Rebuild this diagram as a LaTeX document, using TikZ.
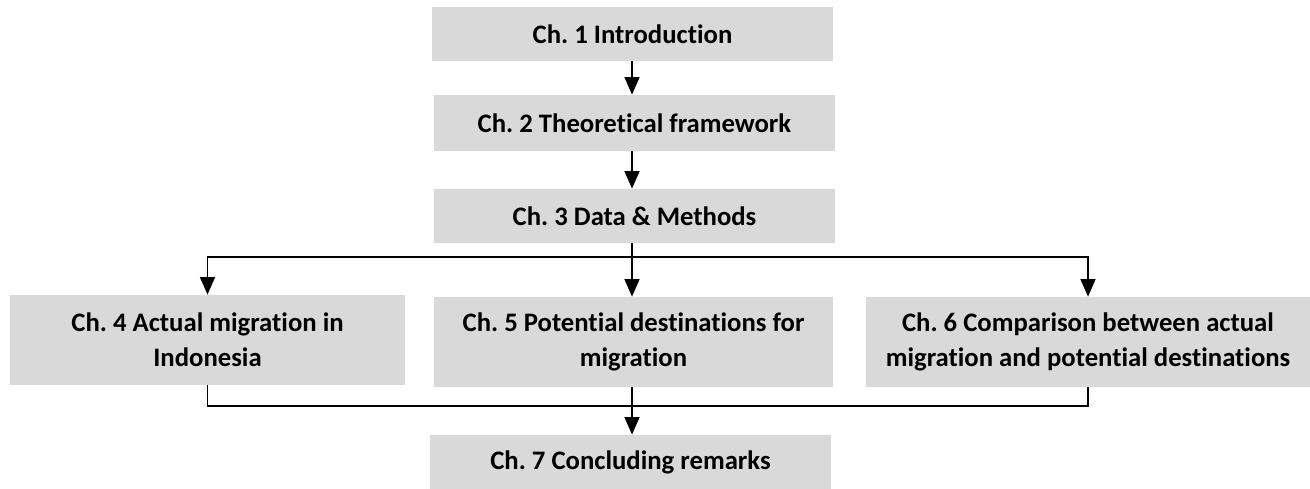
\documentclass[tikz,border=0pt]{standalone}
\usepackage{fontspec}
\setmainfont{Carlito}[Ligatures=NoCommon]
\usepackage{xcolor}
\usetikzlibrary{arrows.meta}
\definecolor{boxgray}{HTML}{D9D9D9}
\frenchspacing

\begin{document}
\begin{tikzpicture}[x=0.02cm,y=-0.02cm,
    chbox/.style={fill=boxgray,inner sep=0pt,align=center,
      font=\fontsize{15.2}{20}\selectfont\bfseries},
    flow/.style={line width=1pt,-{Triangle[length=10pt,width=8.5pt]}},
    bus/.style={line width=1pt}]
        \useasboundingbox (0,0) rectangle (1310,489);

        %------------------
        % chapters
        %------------------

        \node[chbox,minimum width=8.02cm,minimum height=1.08cm] (intro) at (632.5,34) {Ch. 1 Introduction};
        \node[chbox,minimum width=8.02cm,minimum height=1.12cm] (theory) at (634.5,123) {Ch. 2 Theoretical framework};
        \node[chbox,minimum width=8.02cm,minimum height=1.08cm] (data) at (634.5,216) {Ch. 3 Data \& Methods};

        \node[chbox,minimum width=7.90cm,minimum height=1.80cm] (actual) at (207.5,340) {Ch. 4 Actual migration in\\Indonesia};
        \node[chbox,minimum width=7.98cm,minimum height=1.80cm] (potential) at (633.5,342) {Ch. 5 Potential destinations for\\migration};
        \node[chbox,minimum width=8.88cm,minimum height=1.80cm] (compare) at (1088,342) {Ch. 6 Comparison between actual\\migration and potential destinations};

        \node[chbox,minimum width=8.02cm,minimum height=1.08cm] (concl) at (630.5,462) {Ch. 7 Concluding remarks};

        %------------------
        % arrows
        %------------------

        \draw[flow] (intro.south -| 632,0) -- (theory.north -| 632,0);
        \draw[flow] (theory.south -| 632,0) -- (data.north -| 632,0);

        % split into three
        \coordinate (split) at (632,257);
        \draw[bus] (data.south -| split) -- (split);
        \draw[flow] (split) -| (actual.north);
        \draw[flow] (split) -| (compare.north);
        \draw[flow] (split) -- (potential.north -| split);

        % merge again
        \coordinate (merge) at (632,406);
        \draw[bus] (actual.south) |- (merge) -| (compare.south);
        \draw[bus] (potential.south -| merge) -- (merge);
        \draw[flow] (merge) -- (concl.north -| merge);
      \end{tikzpicture}
\end{document}
